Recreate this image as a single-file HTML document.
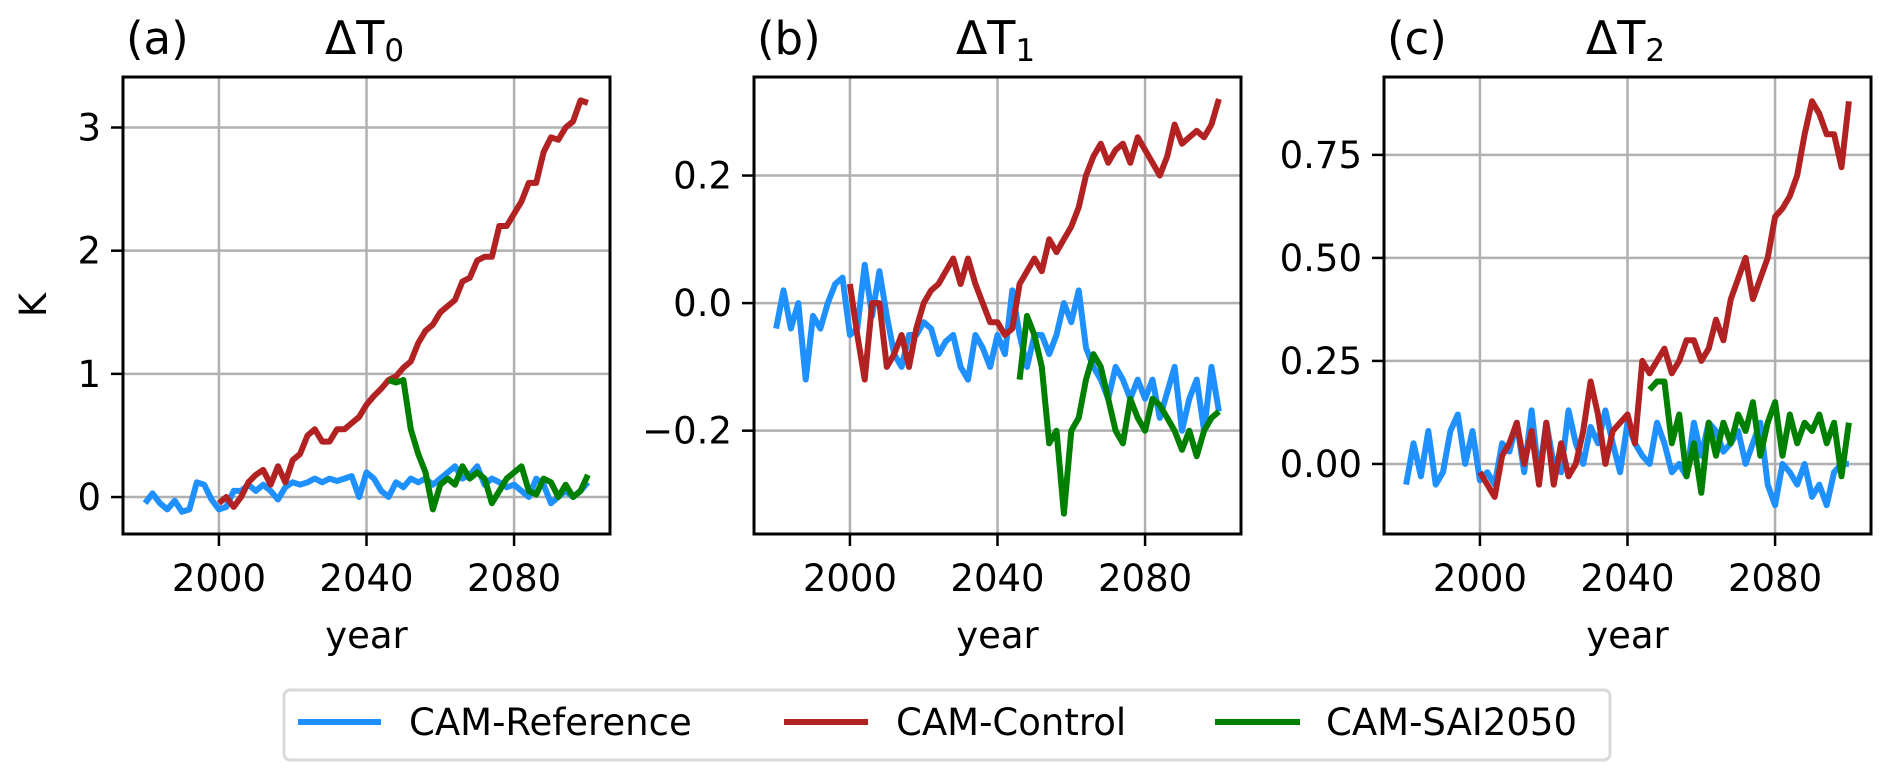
<!DOCTYPE html>
<html><head><meta charset="utf-8">
<style>
html,body{margin:0;padding:0;background:#fff;}
svg{display:block;font-family:"DejaVu Sans","Liberation Sans",sans-serif;}
</style></head>
<body>
<svg id="fig" width="1892" height="781" viewBox="0 0 1892 781" xmlns="http://www.w3.org/2000/svg">
  <g>
    <rect x="284" y="690" width="1326" height="70" rx="6" fill="#fff" stroke="#d9d9d9" stroke-width="3"/>
    <line x1="298" y1="722" x2="381" y2="722" stroke="#1e90ff" stroke-width="6"/>
    <text x="409" y="735" font-size="37">CAM-Reference</text>
    <line x1="784" y1="722" x2="868" y2="722" stroke="#b22222" stroke-width="6"/>
    <text x="896" y="735" font-size="37">CAM-Control</text>
    <line x1="1215" y1="722" x2="1300" y2="722" stroke="#008000" stroke-width="6"/>
    <text x="1326" y="735" font-size="37">CAM-SAI2050</text>
  </g>
</svg>
<script>
// Panel (a) ΔT0
const refA = [-0.05,0.03,-0.05,-0.1,-0.03,-0.12,-0.1,0.12,0.1,-0.02,-0.1,-0.08,0.05,0.05,0.1,0.05,0.1,0.05,-0.02,0.08,0.12,0.1,0.12,0.15,0.12,0.15,0.13,0.15,0.17,0.0,0.2,0.15,0.05,0.0,0.12,0.08,0.15,0.12,0.15,0.1,0.15,0.2,0.25,0.15,0.18,0.25,0.1,0.15,0.12,0.08,0.1,0.05,0.0,0.15,0.1,-0.05,0.0,0.05,0.0,0.05,0.12];
const ctlA = [-0.05,0.0,-0.08,0.0,0.12,0.18,0.22,0.1,0.25,0.12,0.3,0.35,0.5,0.55,0.45,0.45,0.55,0.55,0.6,0.65,0.75,0.82,0.88,0.95,0.98,1.05,1.1,1.25,1.35,1.4,1.5,1.55,1.6,1.75,1.78,1.92,1.95,1.95,2.2,2.2,2.3,2.4,2.55,2.55,2.8,2.92,2.9,3.0,3.05,3.22,3.2];
const saiA = [0.95,0.93,0.95,0.55,0.35,0.2,-0.1,0.1,0.15,0.1,0.25,0.15,0.2,0.15,-0.05,0.05,0.15,0.2,0.25,0.05,0.02,0.15,0.12,0.0,0.1,0.0,0.05,0.18];
const ticksA = [0,1,2,3];
const tickLabelsA = ["0","1","2","3"];
// Panel (b) ΔT1
const refB = [-0.04,0.02,-0.04,0.0,-0.12,-0.02,-0.04,0.0,0.03,0.04,-0.05,-0.04,0.06,-0.02,0.05,-0.02,-0.08,-0.1,-0.05,-0.05,-0.03,-0.04,-0.08,-0.06,-0.05,-0.1,-0.12,-0.05,-0.07,-0.1,-0.05,-0.08,0.02,-0.05,-0.1,-0.05,-0.05,-0.08,-0.05,0.0,-0.03,0.02,-0.07,-0.1,-0.12,-0.15,-0.1,-0.12,-0.15,-0.12,-0.15,-0.12,-0.18,-0.14,-0.1,-0.2,-0.15,-0.12,-0.2,-0.1,-0.17];
const ctlB = [0.03,-0.05,-0.12,0.0,0.0,-0.1,-0.08,-0.05,-0.1,-0.04,0.0,0.02,0.03,0.05,0.07,0.03,0.07,0.03,0.0,-0.03,-0.03,-0.05,-0.04,0.03,0.05,0.07,0.05,0.1,0.08,0.1,0.12,0.15,0.2,0.23,0.25,0.22,0.24,0.25,0.22,0.26,0.24,0.22,0.2,0.23,0.28,0.25,0.26,0.27,0.26,0.28,0.32];
const saiB = [-0.12,-0.02,-0.05,-0.1,-0.22,-0.2,-0.33,-0.2,-0.18,-0.12,-0.08,-0.1,-0.15,-0.2,-0.22,-0.15,-0.18,-0.2,-0.15,-0.16,-0.18,-0.2,-0.23,-0.2,-0.24,-0.2,-0.18,-0.17];
const ticksB = [-0.2,0,0.2];
const tickLabelsB = ["\u22120.2","0.0","0.2"];
// Panel (c) ΔT2
const refC = [-0.05,0.05,-0.03,0.08,-0.05,-0.02,0.08,0.12,0.0,0.08,-0.04,-0.02,-0.05,0.05,0.03,0.1,-0.02,0.13,-0.03,0.1,0.0,-0.02,0.13,0.05,0.0,0.09,0.05,0.13,0.05,-0.02,0.1,0.05,0.02,0.0,0.1,0.05,-0.02,0.0,-0.03,0.1,0.02,0.1,0.08,0.03,0.05,0.08,0.0,0.05,0.1,-0.05,-0.1,0.0,-0.02,-0.05,0.0,-0.08,-0.05,-0.1,-0.02,0.0,0.0];
const ctlC = [-0.02,-0.05,-0.08,0.02,0.05,0.1,0.0,0.08,-0.05,0.1,-0.05,0.05,-0.03,0.0,0.08,0.2,0.12,0.0,0.08,0.1,0.12,0.05,0.25,0.22,0.25,0.28,0.22,0.25,0.3,0.3,0.25,0.28,0.35,0.3,0.4,0.45,0.5,0.4,0.45,0.5,0.6,0.62,0.65,0.7,0.8,0.88,0.85,0.8,0.8,0.72,0.88];
const saiC = [0.18,0.2,0.2,0.05,0.12,-0.03,0.05,-0.07,0.1,0.02,0.1,0.05,0.12,0.08,0.15,0.02,0.1,0.15,0.02,0.12,0.05,0.1,0.08,0.12,0.05,0.1,-0.03,0.1];
const ticksC = [0,0.25,0.5,0.75];
const tickLabelsC = ["0.00","0.25","0.50","0.75"];
const xTicks = [2000,2040,2080];
const xTickLabels = ["2000","2040","2080"];

const NS = "http://www.w3.org/2000/svg";
const svg = document.getElementById("fig");
function mk(tag, attrs, parent){
  const e = document.createElementNS(NS, tag);
  for (const k in attrs) e.setAttribute(k, attrs[k]);
  (parent||svg).appendChild(e);
  return e;
}
const TOP = 77, BOT = 534, W = 487;
const panels = [
  {id:"a", left:123, ymin:-0.30, ymax:3.41, ref:refA, ctl:ctlA, sai:saiA, ticks:ticksA, labels:tickLabelsA, sub:"0", ylabel:true},
  {id:"b", left:754, ymin:-0.362, ymax:0.3545, ref:refB, ctl:ctlB, sai:saiB, ticks:ticksB, labels:tickLabelsB, sub:"1"},
  {id:"c", left:1384, ymin:-0.170, ymax:0.939, ref:refC, ctl:ctlC, sai:saiC, ticks:ticksC, labels:tickLabelsC, sub:"2"}
];
panels.forEach(p => {
  const g = mk("g", {});
  
  
  const xs = yr => p.left + (yr - 1974) / (2106 - 1974) * W;
  const ys = v => BOT - (v - p.ymin) / (p.ymax - p.ymin) * (BOT - TOP);
  xTicks.forEach((t, i) => {
    const l = mk("line", {x1:xs(t), x2:xs(t), y1:TOP, y2:BOT, stroke:"#b0b0b0", "stroke-width":2.5}, g);
    
    
    const tk = mk("line", {x1:xs(t), x2:xs(t), y1:BOT, y2:BOT+12, stroke:"#000", "stroke-width":2.5}, g);
    
    
    const tx = mk("text", {x:xs(t), y:591, "font-size":37, "text-anchor":"middle"}, g);
    tx.textContent = xTickLabels[i];
    
    
  });
  p.ticks.forEach((t, i) => {
    const l = mk("line", {x1:p.left, x2:p.left+W, y1:ys(t), y2:ys(t), stroke:"#b0b0b0", "stroke-width":2.5}, g);
    
    
    const tk = mk("line", {x1:p.left-12, x2:p.left, y1:ys(t), y2:ys(t), stroke:"#000", "stroke-width":2.5}, g);
    
    
    const tx = mk("text", {x:p.left-22, y:ys(t)+13, "font-size":37, "text-anchor":"end"}, g);
    tx.textContent = p.labels[i];
    
    
  });
  const clipId = "clip" + p.id;
  const cp = mk("clipPath", {id:clipId}, g);
  mk("rect", {x:p.left, y:TOP, width:W, height:BOT-TOP}, cp);
  function series(arr, start, color, name){
    const pts = arr.map((v, i) => xs(start + i*2).toFixed(1) + "," + ys(v).toFixed(1)).join(" ");
    const pl = mk("polyline", {points:pts, fill:"none", stroke:color, "stroke-width":6, "stroke-linejoin":"round", "clip-path":"url(#"+clipId+")"}, g);
    
    
  }
  series(p.ref, 1980, "#1e90ff", "reference-line");
  series(p.ctl, 2000, "#b22222", "control-line");
  series(p.sai, 2046, "#008000", "sai2050-line");
  const fr = mk("rect", {x:p.left, y:TOP, width:W, height:BOT-TOP, fill:"none", stroke:"#000", "stroke-width":3}, g);
  
  
  const xl = mk("text", {x:p.left+W/2, y:648, "font-size":37, "text-anchor":"middle"}, g);
  xl.textContent = "year";
  
  
  const pl = mk("text", {x:p.left+3, y:54, "font-size":45}, g);
  pl.textContent = "(" + p.id + ")";
  
  
  const ti = mk("text", {x:p.left+W/2-2, y:54, "font-size":46, "text-anchor":"middle"}, g);
  ti.textContent = "\u0394T";
  const sb = mk("tspan", {"font-size":31, dy:7}, ti);
  sb.textContent = p.sub;
  
  
  if (p.ylabel){
    const yl = mk("text", {x:0, y:0, "font-size":37, "text-anchor":"middle", transform:"translate(46,305) rotate(-90)"}, g);
    yl.textContent = "K";
    
    
  }
});
</script>
</body></html>
